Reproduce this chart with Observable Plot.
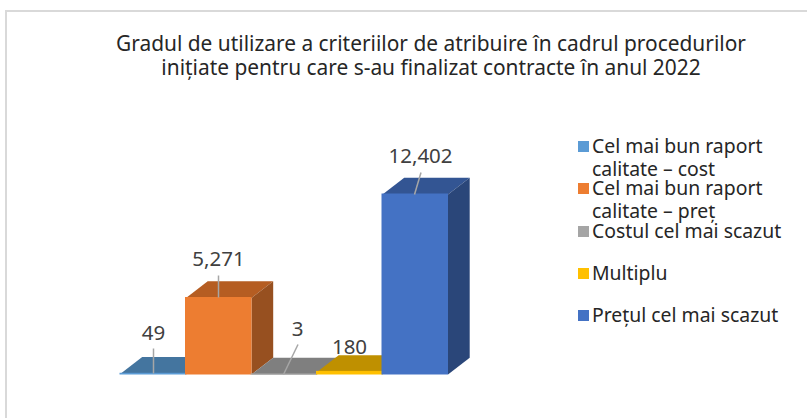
<!DOCTYPE html>
<html lang="ro"><head><meta charset="utf-8">
<script src="https://cdn.jsdelivr.net/npm/d3@7"></script>
<script src="https://cdn.jsdelivr.net/npm/@observablehq/plot@0.6"></script>
<style>
html,body{margin:0;background:#fff;width:807px;height:418px;overflow:hidden}
body{position:relative;font-family:"Noto Sans",sans-serif}
#frame{position:absolute;left:5px;top:10px;right:-5px;bottom:-5px;border:2px solid #d9d9d9}
#chart{position:absolute;left:0;top:0}
#title{position:absolute;left:100px;width:662px;top:31px;text-align:center;font-size:20.9px;line-height:24px;color:#262626}
.lg{position:absolute;left:578px;display:flex;font-size:19.4px;line-height:23px;color:#262626;white-space:nowrap}
.lg i{display:block;width:11px;height:11px;margin:7px 3px 0 0;flex:none}
</style></head><body>
<div id="frame"></div>
<div id="chart"></div>
<div id="title">Gradul de utilizare a criteriilor de atribuire în cadrul procedurilor<br>inițiate pentru care s-au finalizat contracte în anul 2022</div>
<div id="legend"></div>
<script>
const categories = ["Cel mai bun raport calitate – cost","Cel mai bun raport calitate – preț","Costul cel mai scazut","Multiplu","Prețul cel mai scazut"];
const values = [49,5271,3,180,12402];
const labels = ["49","5,271","3","180","12,402"];
const frontColors = ["#5b9bd5","#ed7d31","#a5a5a5","#ffc000","#4472c4"];
const topColors = ["#44759f","#b55d22","#7f7f7f","#bf9000","#335593"];
const sideColors = ["#3a6488","#975020","#6e6e6e","#a67d00","#2a4679"];
const legendLines = [["Cel mai bun raport","calitate – cost"],["Cel mai bun raport","calitate – preț"],["Costul cel mai scazut"],["Multiplu"],["Prețul cel mai scazut"]];
const legendTops = [134,176,219,261,303];

// layout, in pixels
const plotLeft=120, plotRight=447.5, plotBase=374, plotTop=194, depthX=21.7, depthY=16.7;
const unitX=5/(plotRight-plotLeft), unitY=12402/(plotBase-plotTop);
const labelPos=[[153,333],[218,259],[297,329],[349,347],[420,156]];
const leaders=[[[153,348],[153,373]],[[218,275],[218,297]],[[297.5,344],[283,374]],null,[[420.5,172],[414,194]]];
const toX=p=>(p-plotLeft)*unitX, toY=p=>(plotBase-p)*unitY;

const marks=[];
values.forEach((v,i)=>{
  const dx=depthX*unitX, dy=depthY*unitY;
  const topFace=[[i,v],[i+dx,v+dy],[i+1+dx,v+dy],[i+1,v]];
  const sideFace=[[i+1,0],[i+1+dx,dy],[i+1+dx,v+dy],[i+1,v]];
  marks.push(Plot.line(topFace,{x:"0",y:"1",fill:topColors[i],stroke:"none"}));
  marks.push(Plot.line(sideFace,{x:"0",y:"1",fill:sideColors[i],stroke:"none"}));
  marks.push(Plot.rect([{x1:i,x2:i+1,y1:0,y2:v}],{x1:"x1",x2:"x2",y1:"y1",y2:"y2",fill:frontColors[i],stroke:frontColors[i],strokeWidth:1}));
});
leaders.forEach(l=>{ if(!l) return;
  marks.push(Plot.link([l],{x1:d=>toX(d[0][0]),y1:d=>toY(d[0][1]),x2:d=>toX(d[1][0]),y2:d=>toY(d[1][1]),stroke:"#a6a6a6",strokeWidth:1.5}));
});
marks.push(Plot.text(labels.map((t,i)=>({t,x:toX(labelPos[i][0]),y:toY(labelPos[i][1])})),{x:"x",y:"y",text:"t",fontSize:20.5,fill:"#404040",fontFamily:"Noto Sans"}));

const svg=Plot.plot({width:807,height:418,marginLeft:plotLeft,marginRight:807-plotRight,marginTop:plotTop,marginBottom:418-plotBase,
  x:{type:"linear",domain:[0,5],axis:null},y:{type:"linear",domain:[0,12402],axis:null},marks});
document.getElementById("chart").append(svg);

const lg=document.getElementById("legend");
categories.forEach((c,i)=>{
  const d=document.createElement("div");d.className="lg";d.style.top=legendTops[i]+"px";
  const sw=document.createElement("i");sw.style.background=frontColors[i];d.append(sw);
  const t=document.createElement("div");t.innerHTML=legendLines[i].join("<br>");d.append(t);
  lg.append(d);
});
</script></body></html>
